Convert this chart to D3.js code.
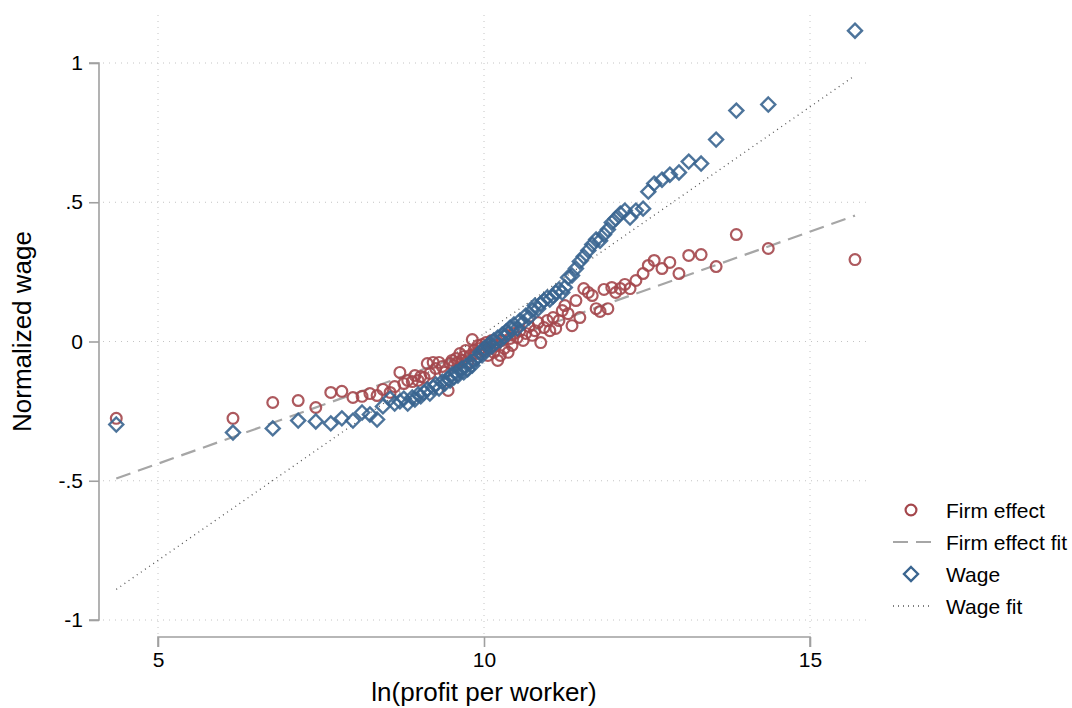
<!DOCTYPE html>
<html>
<head>
<meta charset="utf-8">
<script src="https://cdn.jsdelivr.net/npm/d3@7"></script>
<style>
  body { margin: 0; background: #fff; }
  svg { font-family: "Liberation Sans", Arial, sans-serif; }
</style>
</head>
<body>
<div id="chart"></div>
<script>
// binned x values: ln(profit per worker)
const binX = [4.36, 6.15, 6.76, 7.15, 7.42, 7.65, 7.82, 7.99, 8.13, 8.25,
  8.36, 8.45, 8.56, 8.63, 8.71, 8.77, 8.83, 8.90, 8.94, 8.99,
  9.03, 9.08, 9.13, 9.17, 9.22, 9.26, 9.31, 9.36, 9.40, 9.45,
  9.48, 9.51, 9.54, 9.57, 9.60, 9.63, 9.66, 9.69, 9.72, 9.75,
  9.79, 9.82, 9.85, 9.88, 9.91, 9.94, 9.97, 10.00, 10.03, 10.06,
  10.09, 10.12, 10.15, 10.18, 10.21, 10.25, 10.28, 10.31, 10.34, 10.37,
  10.40, 10.43, 10.46, 10.51, 10.55, 10.60, 10.64, 10.69, 10.74, 10.78,
  10.83, 10.87, 10.92, 10.97, 11.01, 11.06, 11.10, 11.15, 11.20, 11.24,
  11.29, 11.35, 11.41, 11.47, 11.53, 11.60, 11.66, 11.72, 11.78, 11.84,
  11.90, 11.96, 12.02, 12.09, 12.16, 12.24, 12.33, 12.44, 12.52, 12.61,
  12.73, 12.85, 12.99, 13.14, 13.33, 13.56, 13.87, 14.36, 15.69];

const firmEffect = [-0.276, -0.276, -0.219, -0.212, -0.237, -0.183, -0.179, -0.201, -0.197, -0.187,
  -0.194, -0.172, -0.183, -0.162, -0.111, -0.151, -0.140, -0.144, -0.122, -0.140,
  -0.126, -0.129, -0.079, -0.115, -0.075, -0.097, -0.075, -0.090, -0.111, -0.176,
  -0.079, -0.068, -0.086, -0.061, -0.075, -0.043, -0.068, -0.054, -0.032, -0.075,
  -0.050, 0.007, -0.032, -0.043, -0.014, -0.025, -0.011, -0.032, -0.004, -0.050,
  -0.025, 0.004, -0.039, -0.014, -0.068, -0.050, 0.004, -0.025, 0.022, -0.039,
  0.011, -0.014, 0.029, 0.014, 0.039, 0.004, 0.029, 0.054, 0.022, 0.039,
  0.068, -0.004, 0.050, 0.075, 0.039, 0.086, 0.047, 0.075, 0.111, 0.129,
  0.100, 0.057, 0.147, 0.086, 0.190, 0.176, 0.165, 0.118, 0.108, 0.187,
  0.118, 0.194, 0.176, 0.190, 0.205, 0.190, 0.219, 0.244, 0.273, 0.291,
  0.262, 0.284, 0.244, 0.309, 0.312, 0.269, 0.384, 0.334, 0.294];

const wage = [-0.298, -0.327, -0.312, -0.284, -0.287, -0.294, -0.276, -0.284, -0.255, -0.262,
  -0.280, -0.233, -0.205, -0.223, -0.215, -0.205, -0.223, -0.201, -0.208, -0.190,
  -0.197, -0.183, -0.172, -0.187, -0.165, -0.154, -0.169, -0.144, -0.151, -0.133,
  -0.140, -0.118, -0.129, -0.111, -0.122, -0.104, -0.097, -0.111, -0.090, -0.100,
  -0.075, -0.086, -0.068, -0.061, -0.054, -0.039, -0.050, -0.025, -0.032, -0.014,
  -0.007, -0.018, 0.004, -0.004, 0.014, 0.004, 0.025, 0.018, 0.036, 0.029,
  0.050, 0.043, 0.061, 0.047, 0.075, 0.068, 0.093, 0.086, 0.111, 0.129,
  0.118, 0.136, 0.147, 0.158, 0.151, 0.162, 0.176, 0.187, 0.176, 0.194,
  0.230, 0.237, 0.262, 0.287, 0.305, 0.327, 0.348, 0.366, 0.362, 0.384,
  0.402, 0.427, 0.441, 0.459, 0.470, 0.445, 0.470, 0.477, 0.538, 0.567,
  0.581, 0.599, 0.607, 0.646, 0.639, 0.725, 0.829, 0.851, 1.116];

// linear fit end points
const fitX = [4.36, 15.69];
const firmFit = [-0.492, 0.452];
const wageFit = [-0.890, 0.955];

const xTicks = [5, 10, 15];
const yTicks = [-1, -0.5, 0, 0.5, 1];
const yTickLabels = ["-1", "-.5", "0", ".5", "1"];
const legendItems = ["Firm effect", "Firm effect fit", "Wage", "Wage fit"];

const width = 1072, height = 708;
const red = "#a4474c", blue = "#3a6590";
const font = "Liberation Sans, Arial, sans-serif";

const svg = d3.select("#chart").append("svg")
  .attr("width", width).attr("height", height);

const x = d3.scaleLinear().domain([5, 15]).range([158, 810]);
const y = d3.scaleLinear().domain([-1, 1]).range([620, 63]);

// plot region
const plotLeft = 103, plotRight = 870, plotTop = 15, plotBottom = 637;

// gridlines
svg.append("g").selectAll("line")
  .data(yTicks).enter().append("line")
  .attr("x1", plotLeft).attr("x2", plotRight)
  .attr("y1", d => y(d)).attr("y2", d => y(d))
  .attr("stroke", "#c4c4c4").attr("stroke-width", 1)
  .attr("stroke-dasharray", "1,5");
svg.append("g").selectAll("line")
  .data(xTicks).enter().append("line")
  .attr("x1", d => x(d)).attr("x2", d => x(d))
  .attr("y1", plotTop).attr("y2", plotBottom)
  .attr("stroke", "#c4c4c4").attr("stroke-width", 1)
  .attr("stroke-dasharray", "1,5");

// y axis
const yAxis = d3.axisLeft(y).tickValues(yTicks)
  .tickFormat((d, i) => yTickLabels[i]).tickSize(10).tickPadding(6);
const gy = svg.append("g").attr("transform", "translate(99,0)").call(yAxis);
gy.select(".domain").attr("d", `M-10,${y(1)}H0V${y(-1)}H-10`);
gy.selectAll("path, line").attr("stroke", "#a0a0a0").attr("stroke-width", 1.6);
gy.selectAll("text").attr("font-size", 21).attr("fill", "#000")
  .attr("font-family", font);

// x axis
const xAxis = d3.axisBottom(x).tickValues(xTicks).tickSize(10).tickPadding(5);
const gx = svg.append("g").attr("transform", `translate(0,${plotBottom})`).call(xAxis);
gx.select(".domain").attr("d", `M${x(5)},10V0H${x(15)}V10`);
gx.selectAll("path, line").attr("stroke", "#a0a0a0").attr("stroke-width", 1.6);
gx.selectAll("text").attr("font-size", 21).attr("fill", "#000")
  .attr("font-family", font);

// axis titles
svg.append("text")
  .attr("x", x(10)).attr("y", 701)
  .attr("text-anchor", "middle").attr("font-size", 26)
  .text("ln(profit per worker)");
svg.append("text")
  .attr("transform", `translate(31,${y(0) - 10}) rotate(-90)`)
  .attr("text-anchor", "middle").attr("font-size", 26)
  .text("Normalized wage");

// fit lines
const line = d3.line().x(d => x(d[0])).y(d => y(d[1]));
svg.append("path")
  .attr("d", line(d3.zip(fitX, wageFit)))
  .attr("fill", "none").attr("stroke", "#555").attr("stroke-width", 1.3)
  .attr("stroke-dasharray", "1,4");
svg.append("path")
  .attr("d", line(d3.zip(fitX, firmFit)))
  .attr("fill", "none").attr("stroke", "#a6a6a6").attr("stroke-width", 2.2)
  .attr("stroke-dasharray", "15,8");

// firm effect circles
svg.append("g").selectAll("circle")
  .data(d3.zip(binX, firmEffect)).enter().append("circle")
  .attr("cx", d => x(d[0])).attr("cy", d => y(d[1])).attr("r", 5.4)
  .attr("fill", "none").attr("stroke", red).attr("stroke-width", 2.2)
  .attr("stroke-opacity", 0.9);

// wage diamonds
const diamond = s => `M0,${-s}L${s},0L0,${s}L${-s},0Z`;
svg.append("g").selectAll("path")
  .data(d3.zip(binX, wage)).enter().append("path")
  .attr("transform", d => `translate(${x(d[0])},${y(d[1])})`)
  .attr("d", diamond(7))
  .attr("fill", "none").attr("stroke", blue).attr("stroke-width", 2.4)
  .attr("stroke-opacity", 0.9);

// legend
const legend = svg.append("g").attr("transform", "translate(893,510)");
const rowH = 32;
legendItems.forEach((name, i) => {
  const g = legend.append("g").attr("transform", `translate(0,${i * rowH})`);
  if (i === 0) {
    g.append("circle").attr("cx", 18).attr("cy", 0).attr("r", 5.4)
      .attr("fill", "none").attr("stroke", red).attr("stroke-width", 2.2);
  } else if (i === 1) {
    g.append("line").attr("x1", 0).attr("x2", 38).attr("y1", 0).attr("y2", 0)
      .attr("stroke", "#a6a6a6").attr("stroke-width", 2.2).attr("stroke-dasharray", "15,8");
  } else if (i === 2) {
    g.append("path").attr("transform", "translate(18,0)").attr("d", diamond(7))
      .attr("fill", "none").attr("stroke", blue).attr("stroke-width", 2.4);
  } else {
    g.append("line").attr("x1", 0).attr("x2", 38).attr("y1", 0).attr("y2", 0)
      .attr("stroke", "#555").attr("stroke-width", 1.3).attr("stroke-dasharray", "1,4");
  }
  g.append("text").attr("x", 53).attr("y", 7.5)
    .attr("font-size", 21).attr("fill", "#000").text(name);
});
</script>
</body>
</html>
